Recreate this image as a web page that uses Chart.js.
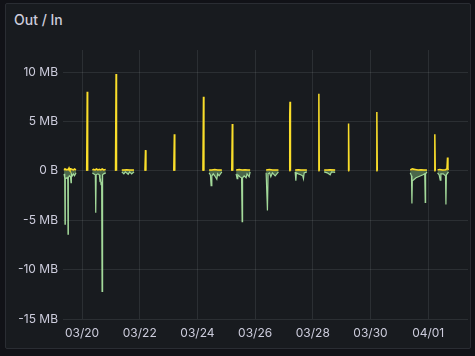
<!DOCTYPE html>
<html>
<head>
<meta charset="utf-8">
<script src="https://cdn.jsdelivr.net/npm/chart.js@4.4.1/dist/chart.umd.min.js"></script>
<style>
  html, body { margin: 0; padding: 0; background: #111217; width: 475px; height: 356px; overflow: hidden; }
  #panel { position: absolute; left: 5px; top: 3px; width: 464px; height: 344px; background: #181b1f;
           border: 1px solid #2a2d33; border-radius: 2px; }
  #title { position: absolute; left: 14px; top: 10px; font-family: Inter, "Open Sans", sans-serif; font-size: 14px;
           font-weight: 500; color: #ccccdc; line-height: 20px; }
  #c { position: absolute; left: 0; top: 0; }
</style>
</head>
<body>
<div id="panel"></div>
<div id="title">Out / In</div>
<canvas id="c" width="475" height="356"></canvas>
<script>
// x values: days since 03/19 00:00; y values: MB. null = gap in series.
const outTime = [
  0.376,0.41,0.45,0.48,0.52,0.55,0.58,0.62,0.66,0.70,0.74,0.79,null,
  1.16,1.18,1.195,null,
  1.357,1.40,1.45,1.50,1.55,1.60,1.65,1.70,1.75,1.82,null,
  2.16,2.18,2.195,null,
  2.377,2.45,2.55,2.65,2.80,null,
  3.18,3.20,3.215,null,
  4.18,4.20,4.215,null,
  5.19,5.21,5.225,null,
  5.405,5.5,5.6,5.7,5.846,null,
  6.19,6.21,6.225,null,
  6.342,6.45,6.55,6.65,6.75,6.827,null,
  7.382,7.5,7.6,7.809,null,
  8.185,8.20,8.21,8.225,null,
  8.388,8.5,8.6,8.794,null,
  9.19,9.21,9.225,null,
  9.394,9.5,9.6,9.776,null,
  10.22,10.24,10.255,null,
  11.20,11.22,11.235,null,
  12.377,12.45,12.55,12.65,12.75,12.85,12.956,null,
  13.21,13.23,13.245,null,
  13.324,13.40,13.50,13.60,13.65,13.67,13.685,13.705,null
];
const outMB = [
  0.1,0.2,0.1,0.15,0.1,0.3,0.1,0.2,0.15,0.1,0.2,0.1,null,
  0,8.0,0,null,
  0.1,0.15,0.1,0.2,0.1,0.15,0.1,0.2,0.1,0.15,null,
  0,9.8,0,null,
  0.1,0.1,0.12,0.1,0.1,null,
  0,2.1,0,null,
  0,3.7,0,null,
  0,7.5,0,null,
  0.1,0.1,0.15,0.1,0.1,null,
  0,4.75,0,null,
  0.1,0.15,0.1,0.12,0.1,0.1,null,
  0.1,0.15,0.1,0.1,null,
  0,5.6,7.0,0,null,
  0.1,0.12,0.1,0.1,null,
  0,7.8,0,null,
  0.1,0.1,0.12,0.1,null,
  0,4.8,0,null,
  0,5.95,0,null,
  0.1,0.2,0.15,0.1,0.12,0.1,0.1,null,
  0,3.7,0,null,
  0.1,0.15,0.1,0.12,0.2,1.35,0.2,0.1,null
];
const inTime = [
  0.376,0.40,0.41,0.42,0.45,0.49,0.505,0.514,0.525,0.56,0.60,0.618,0.63,0.66,0.70,0.74,0.792,null,
  1.357,1.40,1.46,1.475,1.49,1.55,1.60,1.62,1.645,1.659,1.68,1.694,1.705,1.72,1.75,1.822,null,
  2.377,2.45,2.5,2.6,2.65,2.72,2.804,null,
  5.405,5.45,5.474,5.50,5.55,5.60,5.672,5.70,5.752,5.846,null,
  6.342,6.376,6.40,6.47,6.53,6.550,6.565,6.62,6.688,6.72,6.793,6.827,null,
  7.382,7.427,7.45,7.50,7.545,7.60,7.695,7.809,null,
  8.388,8.412,8.43,8.50,8.58,8.65,8.676,8.70,8.794,null,
  9.394,9.5,9.602,9.65,9.776,null,
  12.377,12.42,12.436,12.45,12.50,12.58,12.66,12.74,12.82,12.88,12.897,12.91,12.956,null,
  13.324,13.38,13.418,13.44,13.52,13.60,13.615,13.63,13.705,null
];
const inMB = [
  -0.3,-0.7,-5.4,-0.8,-0.7,-0.8,-0.6,-6.4,-0.7,-0.5,-0.6,-1.2,-0.3,-0.5,-0.3,-0.5,-0.2,null,
  -0.2,-0.3,-0.4,-4.25,-0.4,-0.3,-0.4,-1.0,-0.9,-1.4,-1.1,-12.2,-1.0,-0.4,-0.3,-0.2,null,
  -0.1,-0.3,-0.1,-0.35,-0.1,-0.3,-0.1,null,
  -0.2,-0.4,-1.5,-0.5,-0.3,-0.5,-0.85,-0.3,-0.5,-0.1,null,
  -0.3,-0.8,-0.4,-0.6,-0.7,-5.15,-0.7,-0.5,-0.7,-0.3,-0.6,-0.1,null,
  -0.2,-4.0,-0.3,-0.2,-0.6,-0.2,-0.5,-0.1,null,
  -0.1,-1.0,-0.2,-0.3,-0.4,-0.5,-0.8,-0.2,-0.1,null,
  -0.1,-0.2,-0.4,-0.1,-0.15,null,
  -0.2,-0.5,-3.3,-1.0,-0.9,-0.7,-0.6,-0.5,-0.4,-0.3,-3.2,-0.3,-0.1,null,
  -0.2,-0.4,-0.95,-0.3,-0.3,-0.5,-3.4,-0.4,-0.1,null
];
const xTickValues = [1,3,5,7,9,11,13];
const xTickLabels = ['03/20','03/22','03/24','03/26','03/28','03/30','04/01'];
const yTickValues = [-15,-10,-5,0,5,10];

function build(times, values) {
  const pts = [];
  let prev = 0;
  for (let i = 0; i < times.length; i++) {
    if (times[i] === null || values[i] === null) {
      pts.push({ x: prev + 0.0005, y: null });
    } else {
      pts.push({ x: times[i], y: values[i] });
      prev = times[i];
    }
  }
  return pts;
}

const FONT = 'Inter, "Open Sans", sans-serif';
const grid = 'rgba(240,250,255,0.09)';

function draw() {
  new Chart(document.getElementById('c'), {
    type: 'line',
    data: {
      datasets: [
        { label: 'Out', data: build(outTime, outMB), borderColor: '#FADE2A', backgroundColor: 'rgba(250,222,42,0.45)',
          borderWidth: 1.5, pointRadius: 0, fill: 'origin', spanGaps: false, tension: 0 },
        { label: 'In', data: build(inTime, inMB), borderColor: '#A3D99A', backgroundColor: 'rgba(150,217,141,0.4)',
          borderWidth: 1.2, pointRadius: 0, fill: 'origin', spanGaps: false, tension: 0 }
      ]
    },
    options: {
      responsive: false, animation: false, devicePixelRatio: 1,
      layout: { padding: { left: 0, top: 50, right: 7, bottom: 0 } },
      plugins: { legend: { display: false }, tooltip: { enabled: false } },
      scales: {
        x: {
          type: 'linear', min: 0.34, max: 14.38,
          afterBuildTicks: s => { s.ticks = xTickValues.map(v => ({ value: v })); },
          afterFit: s => { s.height = 37; },
          grid: { color: grid, drawTicks: false, lineWidth: 1 },
          border: { display: false },
          ticks: { padding: 7, color: '#ccccdc', font: { family: FONT, size: 12 }, maxRotation: 0,
                   callback: v => { const i = xTickValues.indexOf(v); return i >= 0 ? xTickLabels[i] : ''; } }
        },
        y: {
          type: 'linear', min: -15, max: 12.24,
          afterBuildTicks: s => { s.ticks = yTickValues.map(v => ({ value: v })); },
          afterFit: s => { s.width = 63; },
          grid: { color: grid, drawTicks: false, lineWidth: 1 },
          border: { display: false },
          ticks: { padding: 5, color: '#ccccdc', font: { family: FONT, size: 12 },
                   callback: v => v === 0 ? '0 B' : v + ' MB' }
        }
      }
    }
  });
}
if (document.fonts && document.fonts.load) {
  Promise.all([document.fonts.load('12px Inter'), document.fonts.load('500 14px Inter')]).then(draw, draw);
} else { draw(); }
</script>
</body>
</html>
